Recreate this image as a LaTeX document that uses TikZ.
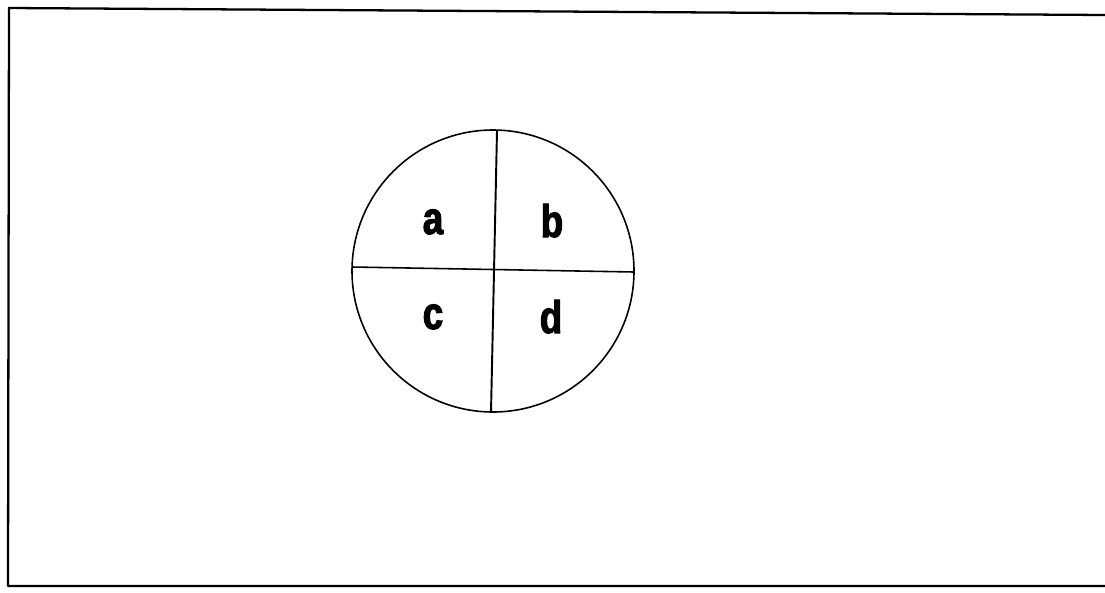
\documentclass[tikz,border=0pt]{standalone}
\usepackage{fontspec}
\newfontfamily\quadfont[FakeStretch=0.8, BoldFeatures={FakeBold=2.5}]{Liberation Sans}
\usepackage{tikz}
\usetikzlibrary{positioning}

\tikzset{
    frameline/.style={line width=1.3pt, line cap=round, line join=round},
    divline/.style={line width=0.9pt},
    quadlabel/.style={font=\quadfont\bfseries\fontsize{26}{26}\selectfont, anchor=base, inner sep=0pt}
}

\begin{document}
\begin{tikzpicture}[x=0.02cm, y=-0.02cm]
    \useasboundingbox (0,0) rectangle (1105,592);

    % Frame (open on the right)
    \draw[frameline] (1105,15) -- (9,8) -- (8,586) -- (1105,586);

    % Circle
    \coordinate (centre) at (493,271);
    \draw[divline] (centre) circle (141);

    % Dividing lines
    \coordinate (top) at (497,131);
    \coordinate (bottom) at (491,412);
    \coordinate (left) at (352,267);
    \coordinate (right) at (634,272);
    \draw[divline, line width=1.1pt] (top) -- (bottom);
    \draw[divline] (left) -- (right);

    % Quadrant labels
    \node[quadlabel] (a) at (433,234) {a};
    \node[quadlabel] (b) at (552,237) {b};
    \node[quadlabel] (c) at (433,329) {c};
    \node[quadlabel] (d) at (551,333) {d};
\end{tikzpicture}
\end{document}
